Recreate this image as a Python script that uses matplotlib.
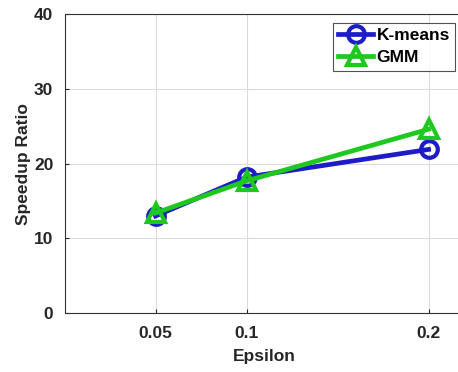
import matplotlib
matplotlib.use("Agg")
import matplotlib.pyplot as plt

epsilon = [0.05, 0.1, 0.2]
kmeans = [13.0, 18.2, 21.9]
gmm = [13.4, 17.7, 24.6]
xtick_labels = ["0.05", "0.1", "0.2"]
yticks = [0, 10, 20, 30, 40]

plt.rcParams['font.family'] = ['Liberation Sans', 'DejaVu Sans']
plt.rcParams['font.weight'] = 'bold'

fig = plt.figure(figsize=(4.58, 3.72), dpi=100)
ax = fig.add_axes([64.5/458, 1-313.3/372, (465-64.5)/458, (313.3-14)/372])

ax.plot(epsilon, kmeans, color='#1c1cc8', lw=3.4, marker='o', ms=12,
        mfc='none', mew=3, label='K-means', zorder=3)
ax.plot(epsilon, gmm, color='#1ec81e', lw=3.4, marker='^', ms=13,
        mfc='none', mew=3, label='GMM', zorder=4)

ax.set_xlim(0, 0.22)
ax.set_ylim(0, 40)
ax.set_xticks(epsilon)
ax.set_xticklabels(xtick_labels)
ax.set_yticks(yticks)
ax.grid(True, color='#dcdcdc', lw=0.8)
ax.set_axisbelow(True)
for s in ax.spines.values():
    s.set_color('#333333')
    s.set_linewidth(0.8)
ax.tick_params(axis='both', labelsize=12.5, colors='#262626', length=3, width=0.8, direction='in')
ax.tick_params(axis='x', pad=9)
ax.tick_params(axis='y', pad=8)
for lab in ax.get_xticklabels() + ax.get_yticklabels():
    lab.set_fontweight('bold')
ax.set_xlabel('Epsilon', fontsize=12.5, fontweight='bold', color='#262626', labelpad=6)
ax.set_ylabel('Speedup Ratio', fontsize=12.5, fontweight='bold', color='#262626', labelpad=2)

leg = ax.legend(loc='upper right', bbox_to_anchor=((455-64.5)/(465-64.5), 1-9/299.3),
                fontsize=12.5, frameon=True, fancybox=False, edgecolor='#262626',
                handlelength=2.0, handletextpad=0.2, borderpad=0.3, labelspacing=0.4,
                borderaxespad=0)
leg.get_frame().set_linewidth(0.8)
for t in leg.get_texts():
    t.set_fontweight('bold')

fig.savefig('out.png', dpi=100)
